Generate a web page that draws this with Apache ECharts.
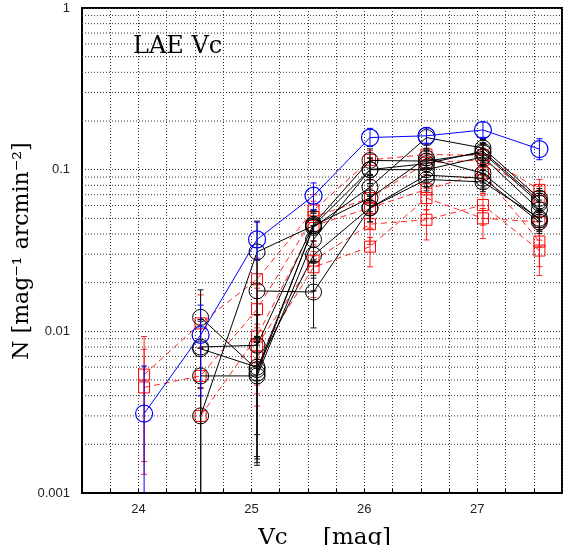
<!DOCTYPE html>
<html>
<head>
<meta charset="utf-8">
<script src="https://cdn.jsdelivr.net/npm/echarts@6/dist/echarts.min.js"></script>
<style>html,body{margin:0;padding:0;background:#fff}#c{width:568px;height:545px}</style>
</head>
<body>
<div id="c"></div>
<script>
// ---- data ----
const xs = [24.05, 24.55, 25.05, 25.55, 26.05, 26.55, 27.05, 27.55];
const xTickLabels = [24, 25, 26, 27];
const yTickLabels = [0.001, 0.01, 0.1, 1];

const blueN = [0.0031, 0.0095, 0.037, 0.069, 0.158, 0.162, 0.176, 0.134];

const black1 = [null, 0.0122, 0.0058, 0.044, 0.078, 0.158, 0.136, 0.0665];
const black2 = [null, 0.0080, 0.0082, 0.046, 0.114, 0.113, 0.127, 0.062];
const black3 = [null, 0.0053, 0.0053, 0.037, 0.100, 0.100, 0.120, 0.0564];
const black4 = [null, 0.0030, 0.031, 0.045, 0.067, 0.118, 0.095, 0.0489];
const black5 = [null, 0.0078, 0.0060, 0.0296, 0.058, 0.0925, 0.0885, 0.0475];
const black6 = [null, null, 0.0178, 0.0175, 0.058, 0.087, 0.084, 0.050];
const black7 = [null, null, 0.0055, 0.045, 0.1, 0.109, 0.130, 0.064];

const red1 = [0.0054, 0.0112, 0.021, 0.056, 0.115, 0.124, 0.123, 0.075];
const red2 = [0.0045, 0.0053, 0.0137, 0.051, 0.0667, 0.110, 0.115, 0.068];
const red3 = [null, 0.0030, 0.0093, 0.045, 0.058, 0.0755, 0.095, 0.0359];
const red4 = [null, null, 0.0082, 0.0274, 0.046, 0.049, 0.0605, 0.0316];
const red5 = [null, null, 0.0069, 0.0249, 0.0334, 0.0667, 0.050, 0.0475];

// fractional error bar sizes per magnitude bin
const blueErrUp = [0.97, 0.53, 0.28, 0.2, 0.14, 0.12, 0.12, 0.16];
const blueErrDn = [1.0, 0.58, 0.25, 0.18, 0.12, 0.1, 0.1, 0.14];
const blackErrUp = [0, 0.48, 0.55, 0.22, 0.18, 0.15, 0.13, 0.15];
const blackErrDn = [0, 1.0, 0.72, 0.4, 0.18, 0.15, 0.13, 0.15];
const redErrUp = [0.72, 0.5, 0.35, 0.25, 0.14, 0.15, 0.15, 0.16];
const redErrDn = [0.71, 1.0, 0.5, 0.35, 0.25, 0.25, 0.25, 0.3];

const blackSets = [black1, black2, black3, black4, black5, black6, black7];
const redSets = [red1, red2, red3, red4, red5];

// ---- build ----
const YMIN = 0.001, YMAX = 1;
function pts(vals){ return xs.map((x,i)=> vals[i]==null ? [x, '-'] : [x, vals[i]]); }
function errs(sets, up, dn){
  const out = [];
  sets.forEach(v => v.forEach((y,i)=>{
    if (y==null) return;
    out.push([xs[i], Math.max(y*(1-dn[i]), YMIN), y*(1+up[i])]);
  }));
  return out;
}
function errRender(color){
  return function(params, api){
    const x = api.value(0), lo = api.value(1), hi = api.value(2);
    const p1 = api.coord([x, hi]), p2 = api.coord([x, lo]);
    const cap = 3;
    const st = {stroke: color, lineWidth: 1};
    const ch = [
      {type:'line', shape:{x1:p1[0], y1:p1[1], x2:p2[0], y2:p2[1]}, style: st},
      {type:'line', shape:{x1:p1[0]-cap, y1:p1[1], x2:p1[0]+cap, y2:p1[1]}, style: st}
    ];
    if (lo > YMIN) ch.push({type:'line', shape:{x1:p2[0]-cap, y1:p2[1], x2:p2[0]+cap, y2:p2[1]}, style: st});
    return {type:'group', children: ch};
  };
}
const minorVals = [];
for (let e = -3; e < 0; e++) for (let k = 2; k <= 9; k++) minorVals.push([23.5, k*Math.pow(10,e)]);

const dotted = {color:'#333', width:1, type:[1,2]};
const series = [];
series.push({
  type:'custom', silent:true, z:1, data: minorVals, encode:{x:0,y:1},
  renderItem: function(params, api){
    const y = api.coord([23.5, api.value(1)])[1];
    const cs = params.coordSys;
    return {type:'line', shape:{x1:cs.x, y1:y, x2:cs.x+cs.width, y2:y},
      style:{stroke:'#333', lineWidth:1, lineDash:[1,2]}};
  }
});
// red
series.push({type:'custom', z:2, silent:true, data: errs(redSets, redErrUp, redErrDn), encode:{x:0,y:[1,2]}, renderItem: errRender('rgba(255,0,0,0.85)')});
redSets.forEach(v => series.push({
  type:'line', z:3, data: pts(v), symbol:'rect', symbolSize:11, showSymbol:true,
  lineStyle:{color:'rgba(255,0,0,0.85)', width:1, type:[6,4]},
  itemStyle:{color:'rgba(0,0,0,0)', borderColor:'#ff0000', borderWidth:1}, animation:false
}));
// black
series.push({type:'custom', z:4, silent:true, data: errs(blackSets, blackErrUp, blackErrDn), encode:{x:0,y:[1,2]}, renderItem: errRender('#111')});
blackSets.forEach(v => series.push({
  type:'line', z:5, data: pts(v), symbol:'circle', symbolSize:16, showSymbol:true,
  lineStyle:{color:'#000', width:1},
  itemStyle:{color:'rgba(0,0,0,0)', borderColor:'#000', borderWidth:1}, animation:false
}));
// blue
series.push({type:'custom', z:6, silent:true, data: errs([blueN], blueErrUp, blueErrDn), encode:{x:0,y:[1,2]}, renderItem: errRender('#0000ff')});
series.push({
  type:'line', z:7, data: pts(blueN), symbol:'circle', symbolSize:17, showSymbol:true,
  lineStyle:{color:'#0000ff', width:1},
  itemStyle:{color:'rgba(0,0,0,0)', borderColor:'#0000ff', borderWidth:1.2}, animation:false
});

const chart = echarts.init(document.getElementById('c'), null, {renderer:'canvas'});
chart.setOption({
  animation:false,
  grid:{left:82, top:8, width:480, height:485, show:true, borderColor:'#000', borderWidth:2, backgroundColor:'transparent'},
  xAxis:{
    type:'value', min:23.5, max:27.75, interval:0.25,
    axisLine:{show:true, lineStyle:{color:'#000', width:2}},
    axisTick:{show:true, inside:true, length:4, lineStyle:{color:'#000'}},
    axisLabel:{margin:10, fontFamily:'Liberation Sans', fontSize:13, color:'#222',
      formatter: v => xTickLabels.indexOf(v) >= 0 ? String(v) : ''},
    splitLine:{show:true, lineStyle: dotted}
  },
  yAxis:{
    type:'log', logBase:10, min:YMIN, max:YMAX,
    axisLine:{show:true, lineStyle:{color:'#000', width:2}},
    axisTick:{show:false},
    axisLabel:{margin:12, fontFamily:'Liberation Sans', fontSize:13, color:'#222',
      formatter: v => { const t = yTickLabels.find(a => Math.abs(a - v)/a < 1e-6); return t==null ? '' : String(t); }},
    splitLine:{show:true, lineStyle: dotted}
  },
  graphic:[
    {type:'text', x:133, y:47, style:{text:'LAE Vc', font:'24px "DejaVu Serif"', fill:'#000', textVerticalAlign:'middle'}},
    {type:'text', x:22, y:251, rotation:Math.PI/2, style:{text:'N [mag\u207B\u00B9 arcmin\u207B\u00B2]', font:'22px "DejaVu Serif"', fill:'#000', textAlign:'center', textVerticalAlign:'middle'}},
    {type:'text', x:273, y:538, style:{text:'Vc', font:'23px "DejaVu Serif"', fill:'#000', textAlign:'center', textVerticalAlign:'middle'}},
    {type:'text', x:357, y:538, style:{text:'[mag]', font:'23px "DejaVu Serif"', fill:'#000', textAlign:'center', textVerticalAlign:'middle'}}
  ],
  series: series
});
</script>
</body>
</html>
